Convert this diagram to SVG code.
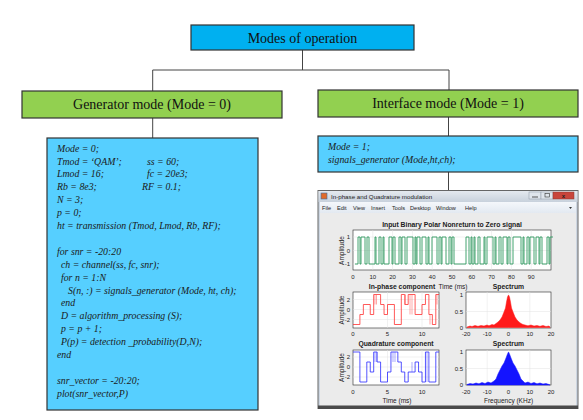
<svg xmlns="http://www.w3.org/2000/svg" width="583" height="420" viewBox="0 0 583 420">
<style>
.box{stroke:#333;stroke-width:1.2}
.top{fill:#00B0F0}
.grn{fill:#92D050}
.code{fill:#56CFFF}
.lbl{font-family:"Liberation Serif",serif;font-size:14px;fill:#111;text-anchor:middle}
.ct{font-family:"Liberation Serif",serif;font-size:9.8px;font-style:italic;fill:#1a1a1a}
.con{stroke:#444;stroke-width:1;fill:none}
.ml{font-family:"Liberation Sans",sans-serif;fill:#222}
.mt{font-size:6.8px;font-weight:bold;text-anchor:middle}
.tk{font-size:6px}
.tke{font-size:6px;text-anchor:end}
.tkm{font-size:6px;text-anchor:middle}
.xl{font-size:6.5px;text-anchor:middle}
.ax{fill:#fff;stroke:#262626;stroke-width:0.6}
.grid{stroke:#e2e2e2;stroke-width:0.5}
.mn{font-size:5.6px}
</style>
<rect width="583" height="420" fill="#fff"/>
<g id="connectors">
<line class="con" x1="302.5" y1="50" x2="302.5" y2="70"/>
<line class="con" x1="152.7" y1="70" x2="449" y2="70"/>
<line class="con" x1="152.7" y1="70" x2="152.7" y2="91"/>
<line class="con" x1="449" y1="70" x2="449" y2="90"/>
<line class="con" x1="152.7" y1="118" x2="152.7" y2="138"/>
<line class="con" x1="448.5" y1="117" x2="448.5" y2="136"/>
<line class="con" x1="448.5" y1="172" x2="448.5" y2="191"/>
</g>
<g id="modes">
<rect class="box top" x="191" y="25" width="223" height="25"/>
<text class="lbl" x="302.5" y="42.5">Modes of operation</text>
</g>
<g id="generator">
<rect class="box grn" x="22" y="91" width="260" height="27"/>
<text class="lbl" x="152" y="109">Generator mode (Mode = 0)</text>
</g>
<g id="interface">
<rect class="box grn" x="318" y="90" width="260" height="27"/>
<text class="lbl" x="448" y="108">Interface mode (Mode = 1)</text>
</g>
<g id="generator-code">
<rect class="box code" x="47" y="138" width="211" height="272"/>
<text class="ct">
<tspan x="57" y="151.6">Mode = 0;</tspan>
<tspan x="57" y="164.5">Tmod = ‘QAM’;</tspan><tspan x="147" y="164.5">ss = 60;</tspan>
<tspan x="57" y="177.4">Lmod = 16;</tspan><tspan x="147" y="177.4">fc = 20e3;</tspan>
<tspan x="57" y="190.3">Rb = 8e3;</tspan><tspan x="142" y="190.3">RF = 0.1;</tspan>
<tspan x="57" y="203.2">N = 3;</tspan>
<tspan x="57" y="216.1">p = 0;</tspan>
<tspan x="57" y="229">ht = transmission (Tmod, Lmod, Rb, RF);</tspan>
<tspan x="57" y="254.8">for snr = -20:20</tspan>
<tspan x="61" y="267.7">ch = channel(ss, fc, snr);</tspan>
<tspan x="61" y="280.6">for n = 1:N</tspan>
<tspan x="68" y="293.5">S(n, :) = signals_generator (Mode, ht, ch);</tspan>
<tspan x="61" y="306.4">end</tspan>
<tspan x="61" y="319.3">D = algorithm_processing (S);</tspan>
<tspan x="61" y="332.2">p = p + 1;</tspan>
<tspan x="61" y="345.1">P(p) = detection _probability(D,N);</tspan>
<tspan x="57" y="358">end</tspan>
<tspan x="57" y="383.8">snr_vector = -20:20;</tspan>
<tspan x="57" y="396.7">plot(snr_vector,P)</tspan>
</text>
</g>
<g id="interface-code">
<rect class="box code" x="318" y="136" width="260" height="36"/>
<text class="ct">
<tspan x="328" y="150">Mode = 1;</tspan>
<tspan x="328" y="162.5">signals_generator (Mode,ht,ch);</tspan>
</text>
</g>
<g id="matlab-window">
<defs>
<linearGradient id="tb" x1="0" y1="0" x2="0" y2="1">
<stop offset="0" stop-color="#e4e9ef"/>
<stop offset="1" stop-color="#c8d1dc"/>
</linearGradient>
<linearGradient id="mb" x1="0" y1="0" x2="0" y2="1">
<stop offset="0" stop-color="#f4f7fb"/>
<stop offset="1" stop-color="#e3e9f1"/>
</linearGradient>
</defs>
<rect x="318" y="190.5" width="260" height="218" fill="#cdd6e1" stroke="#666" stroke-width="1"/>
<rect x="318.5" y="191" width="259" height="11" fill="url(#tb)"/>
<rect x="321" y="193" width="6" height="6" fill="#e06a2a" stroke="#3a6ea5" stroke-width="0.6"/>
<text class="ml" x="331" y="199" font-size="6.2px">In-phase and Quadrature modulation</text>
<rect x="529" y="192" width="12" height="7" fill="#dfe5ec" stroke="#8a96a5" stroke-width="0.5"/>
<line x1="532" y1="197" x2="538" y2="197" stroke="#333" stroke-width="0.8"/>
<rect x="541" y="192" width="12" height="7" fill="#dfe5ec" stroke="#8a96a5" stroke-width="0.5"/>
<rect x="545" y="193.5" width="4.5" height="3.5" fill="none" stroke="#333" stroke-width="0.6"/>
<rect x="553" y="192" width="21" height="7" fill="#c9453b" stroke="#8a3a33" stroke-width="0.5"/>
<text class="ml" x="563.5" y="198" font-size="6px" font-weight="bold" text-anchor="middle" fill="#fff">x</text>
<rect x="320" y="202" width="256" height="11" fill="url(#mb)"/>
<text class="ml mn" y="210">
<tspan x="322">File</tspan><tspan x="337">Edit</tspan><tspan x="353">View</tspan><tspan x="371">Insert</tspan><tspan x="392">Tools</tspan><tspan x="410">Desktop</tspan><tspan x="436">Window</tspan><tspan x="465">Help</tspan>
</text>
<path d="M569,207 l3,0 l-1.5,2 z" fill="#333"/>
<rect x="320" y="213" width="256" height="193" fill="#ebebeb"/>
<rect x="318" y="405.5" width="260" height="3.5" fill="#4a4a4a"/>

<g id="plot-nrz">
<text class="ml mt" x="452" y="226.5">Input Binary Polar Nonreturn to Zero signal</text>
<rect class="ax" x="353" y="230" width="198" height="40"/>
<g class="grid">
<line x1="372.8" y1="230" x2="372.8" y2="270"/><line x1="392.6" y1="230" x2="392.6" y2="270"/><line x1="412.4" y1="230" x2="412.4" y2="270"/><line x1="432.2" y1="230" x2="432.2" y2="270"/><line x1="452" y1="230" x2="452" y2="270"/><line x1="471.8" y1="230" x2="471.8" y2="270"/><line x1="491.6" y1="230" x2="491.6" y2="270"/><line x1="511.4" y1="230" x2="511.4" y2="270"/><line x1="531.2" y1="230" x2="531.2" y2="270"/>
<line x1="353" y1="237" x2="551" y2="237"/><line x1="353" y1="250.5" x2="551" y2="250.5"/><line x1="353" y1="264" x2="551" y2="264"/>
</g>
<path d="M355,264 h3 v-27 h2 v27 h1 v-27 h4 v27 h2 v-27 h2 v27 h6 v-27 h1 v27 h3 v-27 h2 v27 h2 v-27 h1 v27 h5 v-27 h3 v27 h1 v-27 h2 v27 h4 v-27 h2 v27 h1 v-27 h3 v27 h2 v-27 h6 v27 h2 v-27 h1 v27 h1 v-27 h3 v27 h2 v-27 h4 v27 h2 v-27 h1 v27 h3 v-27 h5 v27 h2 v-27 h2 v27 h1 v-27 h4 v27 h3 v-27 h2 v27 h1 v-27 h2 v27 h12 v-27 h3 v27 h2 v-27 h1 v27 h2 v-27 h1 v27 h3 v-27 h2 v27 h4 v-27 h1 v27 h2 v-27 h6 v27 h2 v-27 h1 v27 h3 v-27 h2 v27 h2 v-27 h4 v27 h1 v-27 h2 v27 h3 v-27 h8 v27 h2 v-27 h1 v27 h3 v-27 h2 v27 h1 v-27 h4 v27 h2 v-27 h3 v27 h1 v-27 h2 v27 h5 v-27 h2 v27 h1 v-27 h3" fill="none" stroke="#2f9a60" stroke-width="0.9"/>
<text class="ml tke" x="350" y="239">1</text><text class="ml tke" x="350" y="252.5">0</text><text class="ml tke" x="350" y="266">-1</text>
<text class="ml tkm" y="279"><tspan x="353">0</tspan><tspan x="372.8">10</tspan><tspan x="392.6">20</tspan><tspan x="412.4">30</tspan><tspan x="432.2">40</tspan><tspan x="452">50</tspan><tspan x="471.8">60</tspan><tspan x="491.6">70</tspan><tspan x="511.4">80</tspan><tspan x="531.2">90</tspan></text>
<text class="ml xl" transform="translate(343.5,250.5) rotate(-90)">Amplitude</text>
<text class="ml xl" x="453" y="288.5">Time (ms)</text>
</g>

<g id="plot-inphase">
<text class="ml mt" x="402" y="288.5">In-phase component</text>
<rect class="ax" x="353" y="292" width="86" height="36"/>
<g class="grid">
<line x1="387.5" y1="292" x2="387.5" y2="328"/><line x1="422" y1="292" x2="422" y2="328"/>
<line x1="353" y1="299.5" x2="439" y2="299.5"/><line x1="353" y1="309.5" x2="439" y2="309.5"/><line x1="353" y1="319.5" x2="439" y2="319.5"/>
</g>
<path d="M353,324.5 H359.9 V314.5 H363.35 V304.5 H370.25 V314.5 H373.7 V294.5 H380.6 V304.5 H384.05 V314.5 H387.5 V304.5 H394.4 V324.5 H401.3 V294.5 H404.75 V304.5 H408.2 V294.5 H415.1 V314.5 H422 V304.5 H425.45 V294.5 H428.9 V314.5 H432.35 V324.5 H435.8 V294.5 H439" fill="none" stroke="#ff3030" stroke-width="0.8"/>
<path d="M375,294.5 V304.5 M376.5,294.5 V304.5 M405.5,294.5 V304.5 M410,294.5 V314.5 M412,294.5 V314.5 M430,314.5 V324.5 M437,294.5 V304.5" fill="none" stroke="#ff5050" stroke-width="0.5"/>
<text class="ml tke" x="350" y="301.5">2</text><text class="ml tke" x="350" y="311.5">0</text><text class="ml tke" x="350" y="321.5">-2</text>
<text class="ml tkm" y="336"><tspan x="353">0</tspan><tspan x="387.5">5</tspan><tspan x="422">10</tspan></text>
<text class="ml xl" transform="translate(343.5,310) rotate(-90)">Amplitude</text>
</g>

<g id="plot-spectrum-i">
<text class="ml mt" x="508.5" y="288.5">Spectrum</text>
<rect class="ax" x="466" y="292" width="85" height="36"/>
<g class="grid">
<line x1="487.2" y1="292" x2="487.2" y2="328"/><line x1="508.5" y1="292" x2="508.5" y2="328"/><line x1="529.8" y1="292" x2="529.8" y2="328"/>
<line x1="466" y1="311.5" x2="551" y2="311.5"/>
</g>
<path d="M467,327.5 L467,327 470,326 472,326.5 475,325.5 478,326.3 481,325.5 484,326 487,325 489,325.8 492,324.5 494,325 496,323.5 498,322 500,320 502,317 504,312 505.5,308 506.5,302 507.5,297 508.5,295 509.5,297 510.5,302 511.5,308 513,312 515,317 517,320 519,322 521,323.5 523,324.5 525,325 528,325.8 531,325 534,326 537,325.5 540,326.3 543,325.5 546,326.5 549,326 550,327 550,327.5 Z" fill="#ff1a1a" stroke="#ff1a1a" stroke-width="0.5"/>
<text class="ml tke" x="463" y="297">1</text><text class="ml tke" x="463" y="313.5">0.5</text><text class="ml tke" x="463" y="330">0</text>
<text class="ml tkm" y="336"><tspan x="466">-20</tspan><tspan x="487.2">-10</tspan><tspan x="508.5">0</tspan><tspan x="529.8">10</tspan><tspan x="551">20</tspan></text>
</g>

<g id="plot-quadrature">
<text class="ml mt" x="396" y="345.5">Quadrature component</text>
<rect class="ax" x="353" y="350" width="86" height="35"/>
<g class="grid">
<line x1="387.5" y1="350" x2="387.5" y2="385"/><line x1="422" y1="350" x2="422" y2="385"/>
<line x1="353" y1="357" x2="439" y2="357"/><line x1="353" y1="367" x2="439" y2="367"/><line x1="353" y1="377" x2="439" y2="377"/>
</g>
<path d="M353,352 H359.9 V382 H366.8 V362 H370.25 V372 H373.7 V352 H377.15 V362 H380.6 V382 H387.5 V372 H390.95 V352 H397.85 V362 H401.3 V372 H404.75 V382 H408.2 V372 H415.1 V362 H418.55 V372 H422 V382 H425.45 V352 H428.9 V382 H435.8 V352 H439" fill="none" stroke="#2a2aff" stroke-width="0.8"/>
<path d="M375,352 V362 M376.5,352 V362 M393,352 V362 M395,352 V362 M412,362 V372 M427,352 V382" fill="none" stroke="#5050ff" stroke-width="0.5"/>
<text class="ml tke" x="350" y="359">2</text><text class="ml tke" x="350" y="369">0</text><text class="ml tke" x="350" y="379">-2</text>
<text class="ml tkm" y="394"><tspan x="353">0</tspan><tspan x="387.5">5</tspan><tspan x="422">10</tspan></text>
<text class="ml xl" transform="translate(343.5,367.5) rotate(-90)">Amplitude</text>
<text class="ml xl" x="397" y="403">Time (ms)</text>
</g>

<g id="plot-spectrum-q">
<text class="ml mt" x="508.5" y="345.5">Spectrum</text>
<rect class="ax" x="466" y="350" width="85" height="35"/>
<g class="grid">
<line x1="487.2" y1="350" x2="487.2" y2="385"/><line x1="508.5" y1="350" x2="508.5" y2="385"/><line x1="529.8" y1="350" x2="529.8" y2="385"/>
<line x1="466" y1="368.5" x2="551" y2="368.5"/>
</g>
<path d="M467,385 L467,384.5 470,383.5 473,384 476,383 479,383.8 482,382.5 485,383.5 488,382 491,383 494,381 496,379 498,374 500,370 502,366 504,363 506,358 507.5,354 508.5,352 509.5,354 511,358 513,363 515,366 517,370 519,374 521,379 523,381 525,383 528,382 531,383.5 534,382.5 537,383.8 540,383 543,384 546,383.5 549,384.5 550,385 Z" fill="#1414ff" stroke="#1414ff" stroke-width="0.5"/>
<text class="ml tke" x="463" y="354">1</text><text class="ml tke" x="463" y="370.5">0.5</text><text class="ml tke" x="463" y="387">0</text>
<text class="ml tkm" y="394"><tspan x="466">-20</tspan><tspan x="487.2">-10</tspan><tspan x="508.5">0</tspan><tspan x="529.8">10</tspan><tspan x="551">20</tspan></text>
<text class="ml xl" x="508.5" y="403">Frequency (KHz)</text>
</g>
</g>
</svg>
